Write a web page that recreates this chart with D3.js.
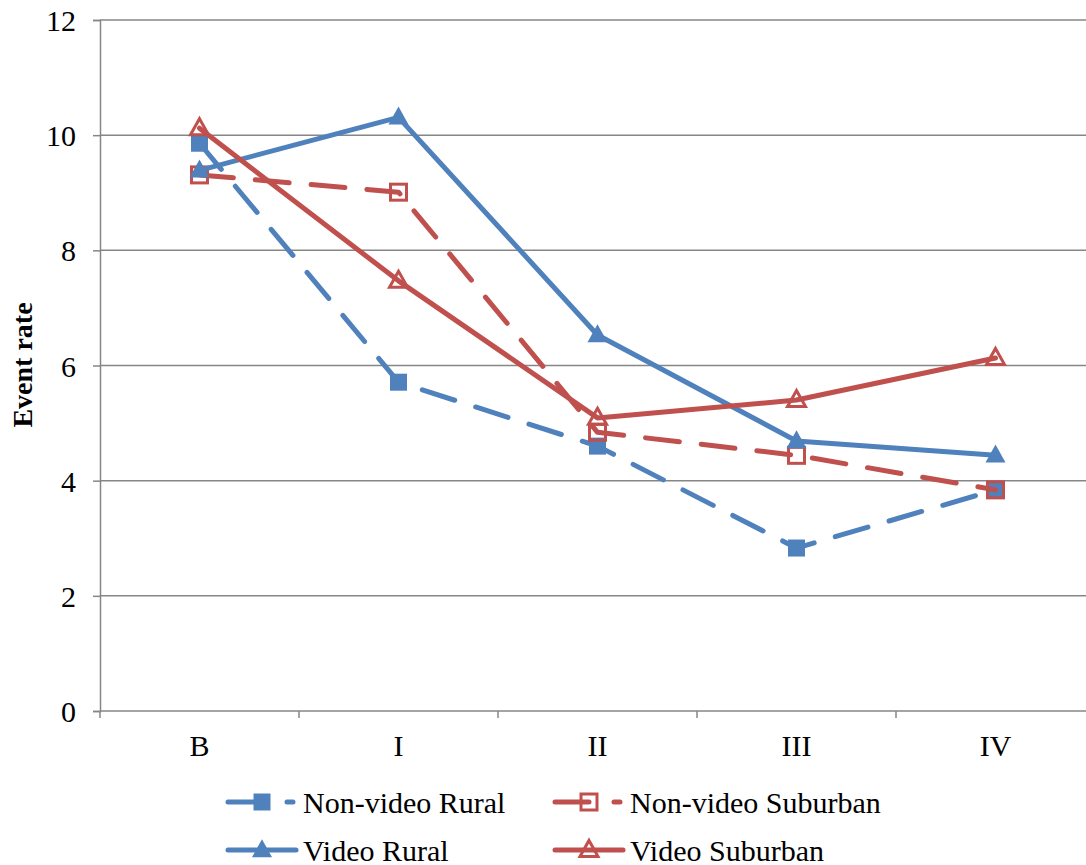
<!DOCTYPE html>
<html>
<head>
<meta charset="utf-8">
<script src="https://cdn.jsdelivr.net/npm/d3@7"></script>
<style>
  body { margin: 0; background: #fff; }
  svg { display: block; font-family: "Liberation Serif", "Times New Roman", serif; }
</style>
</head>
<body>
<svg width="1086" height="865"></svg>
<script>
let categories = ["B", "I", "II", "III", "IV"];
let yTicks = [0, 2, 4, 6, 8, 10, 12];

let nonVideoRural = [9.86, 5.71, 4.60, 2.83, 3.84];
let nonVideoSuburban = [9.31, 9.01, 4.84, 4.44, 3.84];
let videoRural = [9.39, 10.31, 6.53, 4.69, 4.44];
let videoSuburban = [10.12, 7.47, 5.09, 5.40, 6.13];

let seriesNames = ["Non-video Rural", "Non-video Suburban", "Video Rural", "Video Suburban"];

let blue = "#4F81BD", red = "#C0504D", gridColor = "#868686";

let series = [
    {name: seriesNames[0], values: nonVideoRural, color: blue, dash: "34,22", marker: "square", filled: true},
    {name: seriesNames[1], values: nonVideoSuburban, color: red, dash: "34,22", marker: "square", filled: false},
    {name: seriesNames[2], values: videoRural, color: blue, dash: null, marker: "triangle", filled: true},
    {name: seriesNames[3], values: videoSuburban, color: red, dash: null, marker: "triangle", filled: false}
];

let svg = d3.select("svg");
let plotLeft = 100, plotRight = 1095, plotTop = 20, plotBottom = 711;

let x = d3.scalePoint().domain(categories).range([plotLeft, plotRight]).padding(0.5);
let xBand = d3.scaleBand().domain(categories).range([plotLeft, plotRight]);
let y = d3.scaleLinear().domain([0, 12]).range([plotBottom, plotTop]);

// gridlines
svg.append("g").selectAll("line")
    .data(yTicks.filter(d => d > 0))
    .enter().append("line")
    .attr("x1", plotLeft).attr("x2", plotRight)
    .attr("y1", d => y(d)).attr("y2", d => y(d))
    .attr("stroke", gridColor).attr("stroke-width", 1.5);

// y axis
let yAxis = svg.append("g")
    .attr("transform", "translate(" + plotLeft + ",0)")
    .call(d3.axisLeft(y).tickValues(yTicks).tickSize(7).tickPadding(10).tickFormat(d3.format("d")));
yAxis.select(".domain").attr("stroke", gridColor).attr("stroke-width", 1.5);
yAxis.selectAll(".tick line").attr("stroke", gridColor).attr("stroke-width", 1.5);
yAxis.selectAll(".tick text")
    .attr("font-size", 30).attr("font-family", "Liberation Serif").attr("fill", "#000")
    .attr("dy", "0.35em").attr("x", -24);

// x axis
let xAxis = svg.append("g")
    .attr("transform", "translate(0," + plotBottom + ")");
xAxis.append("line")
    .attr("x1", plotLeft).attr("x2", plotRight)
    .attr("stroke", gridColor).attr("stroke-width", 1.5);
xAxis.selectAll(".xtick")
    .data(categories.concat(["end"]))
    .enter().append("line")
    .attr("x1", (d, i) => i < categories.length ? xBand(d) : plotRight)
    .attr("x2", (d, i) => i < categories.length ? xBand(d) : plotRight)
    .attr("y1", 0).attr("y2", 7)
    .attr("stroke", gridColor).attr("stroke-width", 1.5);
xAxis.selectAll(".xlabel")
    .data(categories)
    .enter().append("text")
    .attr("x", d => x(d)).attr("y", 45)
    .attr("text-anchor", "middle")
    .attr("font-size", 30).attr("fill", "#000")
    .text(d => d);

// y title
svg.append("text")
    .attr("transform", "translate(32,365) rotate(-90)")
    .attr("text-anchor", "middle")
    .attr("font-size", 28).attr("font-weight", "bold")
    .text("Event rate");

function drawMarker(g, s, cx, cy) {
    let sw = s.filled ? 0 : 3;
    if (s.marker === "square") {
        let size = s.filled ? 17 : 16;
        g.append("rect")
            .attr("x", cx - size / 2).attr("y", cy - size / 2)
            .attr("width", size).attr("height", size)
            .attr("fill", s.filled ? s.color : "none")
            .attr("stroke", s.color).attr("stroke-width", sw);
    } else {
        let h = s.filled ? 18 : 16, w = s.filled ? 20 : 18;
        g.append("path")
            .attr("d", "M" + cx + "," + (cy - h * 0.6) + "L" + (cx + w / 2) + "," + (cy + h * 0.4) + "L" + (cx - w / 2) + "," + (cy + h * 0.4) + "Z")
            .attr("fill", s.filled ? s.color : "none")
            .attr("stroke", s.color).attr("stroke-width", sw)
            .attr("stroke-linejoin", "miter");
    }
}

let line = d3.line()
    .x((d, i) => x(categories[i]))
    .y(d => y(d));

series.forEach(function (s) {
    let g = svg.append("g");
    g.append("path")
        .attr("d", line(s.values))
        .attr("fill", "none")
        .attr("stroke", s.color)
        .attr("stroke-width", 5)
        .attr("stroke-linecap", "round")
        .attr("stroke-linejoin", "round")
        .attr("stroke-dasharray", s.dash);
    s.values.forEach(function (v, i) {
        drawMarker(g, s, x(categories[i]), y(v));
    });
});

// legend
let legendPos = [[228, 802], [555, 802], [228, 850], [555, 850]];
series.forEach(function (s, i) {
    let lx = legendPos[i][0], ly = legendPos[i][1];
    let g = svg.append("g");
    g.append("line")
        .attr("x1", lx).attr("x2", s.dash ? lx + 65 : lx + 68)
        .attr("y1", ly).attr("y2", ly)
        .attr("stroke", s.color).attr("stroke-width", 5)
        .attr("stroke-linecap", "round")
        .attr("stroke-dasharray", s.dash ? "34,25" : null);
    drawMarker(g, s, lx + 34, ly);
    g.append("text")
        .attr("x", lx + 75).attr("y", ly)
        .attr("dy", "0.35em")
        .attr("font-size", 30).attr("fill", "#000")
        .text(s.name);
});
</script>
</body>
</html>
